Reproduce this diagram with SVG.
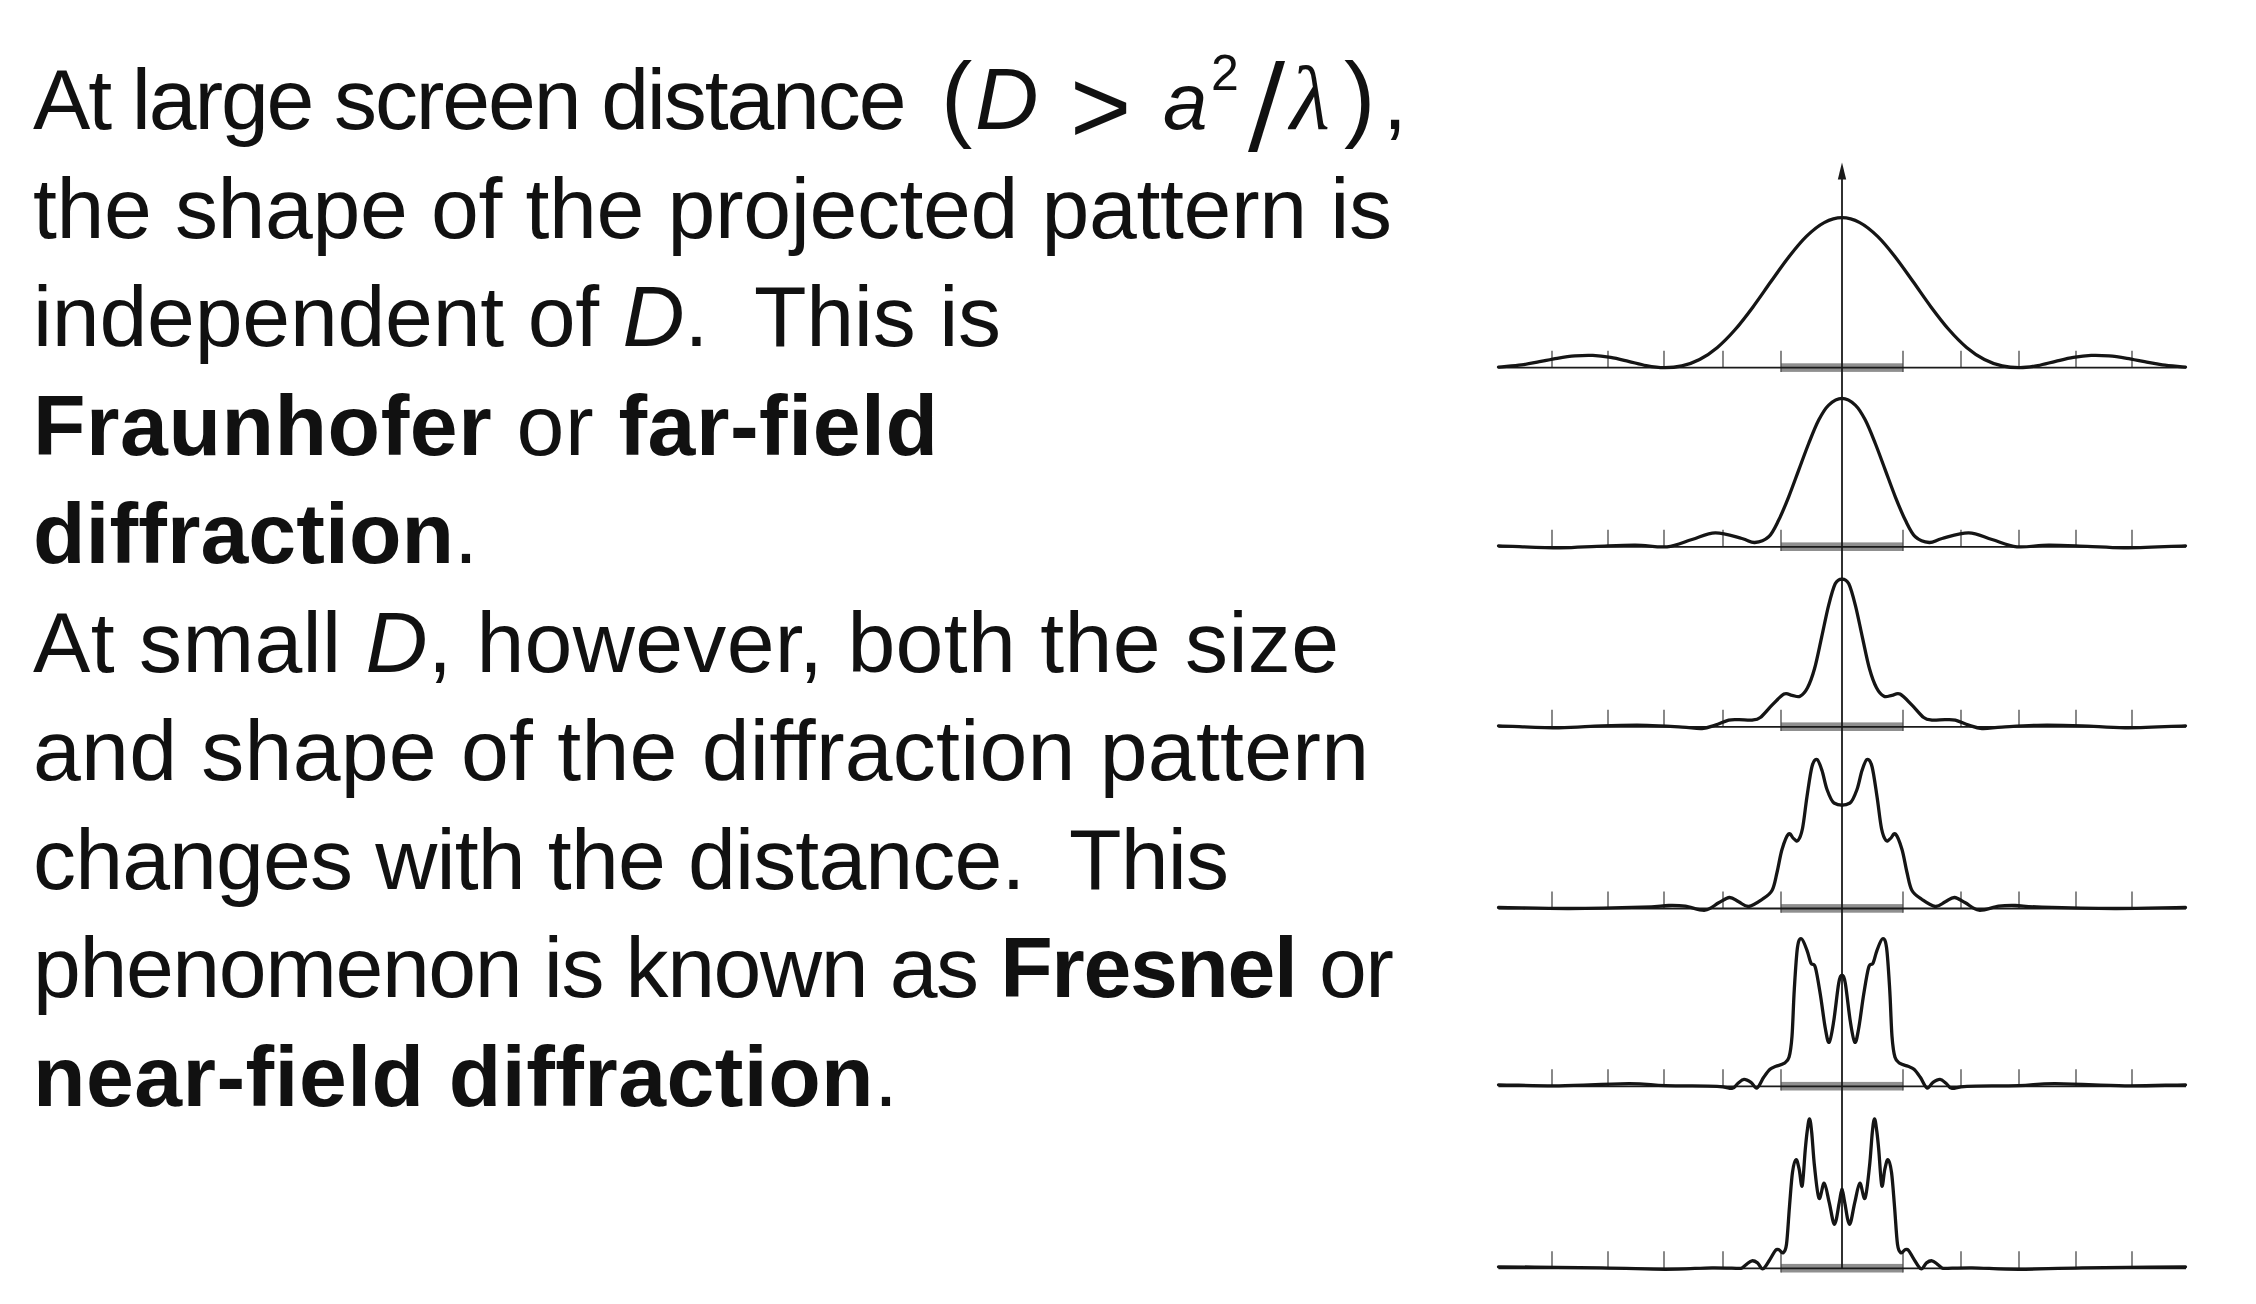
<svg xmlns="http://www.w3.org/2000/svg" width="2256" height="1304" viewBox="0 0 2256 1304">
<style>
.txt{font-family:"Liberation Sans",Arial,sans-serif;font-size:86px;fill:#111}
.b{font-weight:bold}
.i{font-style:italic}
.curve{fill:none;stroke:#151515;stroke-width:3.3;stroke-linejoin:round;stroke-linecap:round}
.base{stroke:#1a1a1a;stroke-width:1.8}
.tick{stroke:#4a4a4a;stroke-width:1.3;fill:none}
.bar{fill:#8f8f8f}
.ax{stroke:#1a1a1a;stroke-width:1.8}
</style>
<defs>
<g id="row">
<rect class="bar" x="1781" y="-4.4" width="122" height="8.6"/>
<path class="tick" d="M1552,-17V0M1608,-17V0M1664,-17V0M1723,-17V0M1781,-17V4.2M1903,-17V4.2M1961,-17V0M2019,-17V0M2076,-17V0M2132,-17V0"/>
<line class="base" x1="1498.5" y1="0" x2="2186" y2="0"/>
</g>
</defs>
<rect width="2256" height="1304" fill="#fff"/>

<g id="text" class="txt">
<text y="129.3"><tspan x="33" textLength="873.5" lengthAdjust="spacing">At large screen distance</tspan><tspan x="941" font-size="94">(</tspan><tspan x="975" class="i" font-size="88">D</tspan><tspan x="1070" y="143" font-size="105">&gt;</tspan><tspan x="1163" y="129.3" class="i" font-size="80">a</tspan><tspan x="1211" y="90" font-size="50">2</tspan><tspan x="1248" y="141.5" font-size="110" style="font-family:'DejaVu Sans',sans-serif">/</tspan><tspan x="1290" y="129.3" class="i" font-size="92" style="font-family:'Liberation Serif',serif">λ</tspan><tspan x="1344" font-size="94">)</tspan><tspan x="1383">,</tspan></text>
<text x="33" y="237.8" textLength="1359" lengthAdjust="spacing">the shape of the projected pattern is</text>
<text x="33" y="346.3" textLength="968" lengthAdjust="spacing" xml:space="preserve">independent of <tspan class="i">D</tspan>.  This is</text>
<text x="33" y="454.8" textLength="905" lengthAdjust="spacing"><tspan class="b">Fraunhofer</tspan> or <tspan class="b">far-field</tspan></text>
<text x="33" y="563.3" textLength="445" lengthAdjust="spacing"><tspan class="b">diffraction</tspan>.</text>
<text x="33" y="671.8" textLength="1306" lengthAdjust="spacing">At small <tspan class="i">D</tspan>, however, both the size</text>
<text x="33" y="780.3" textLength="1336" lengthAdjust="spacing">and shape of the diffraction pattern</text>
<text x="33" y="888.8" textLength="1196" lengthAdjust="spacing" xml:space="preserve">changes with the distance.  This</text>
<text x="33" y="997.3" textLength="1361" lengthAdjust="spacing">phenomenon is known as <tspan class="b">Fresnel</tspan> or</text>
<text x="33" y="1105.8" textLength="865" lengthAdjust="spacing"><tspan class="b">near-field diffraction</tspan>.</text>
</g>

<g id="rows">
<use href="#row" transform="translate(0,367.7)"/>
<use href="#row" transform="translate(0,546.8)"/>
<use href="#row" transform="translate(0,726.8)"/>
<use href="#row" transform="translate(0,908.5)"/>
<use href="#row" transform="translate(0,1086.3)"/>
<use href="#row" transform="translate(0,1268.3)"/>
</g>

<g id="connectors">
<line class="ax" x1="1842" y1="178" x2="1842" y2="1268.3"/>
<polygon points="1842,162.5 1837.8,179.5 1846.2,179.5" fill="#1a1a1a"/>
</g>

<g id="plot1" transform="translate(1842,367.7)">
<path id="c1" class="curve" d="M0,-150 C5.93,-150 11.87,-148.22 17.8,-145.1 S29.67,-137.07 35.6,-131.3 S47.47,-118.07 53.4,-110.5 S65.27,-94.18 71.2,-85.9 S83.07,-68.75 89,-60.8 S100.87,-44.95 106.8,-38.2 S118.67,-25.3 124.6,-20.3 S136.47,-11.28 142.4,-8.2 S154.27,-3.17 160.2,-1.8 S172.07,0.05 178,0 S189.87,-1.03 195.8,-2.1 S207.67,-5.03 213.6,-6.4 S225.47,-9.32 231.4,-10.3 S243.27,-12.05 249.2,-12.3 S261.07,-12.28 267,-11.8 S278.87,-10.37 284.8,-9.4 S296.67,-7.1 302.6,-6 S313.58,-3.72 320.4,-2.8 S335.8,-1.27 343.5,-0.5"/>
<use href="#c1" transform="scale(-1,1)"/>
</g>

<g id="plot2" transform="translate(1842,546.8)">
<path id="c2" class="curve" d="M0,-148.4 C4.43,-148.4 9.42,-145.32 13.3,-141.7 S19.97,-133.1 23.3,-126.7 S29.97,-111.63 33.3,-103.3 S39.97,-85.58 43.3,-76.7 S49.97,-58.33 53.3,-50 S59.97,-33.37 63.3,-26.7 S69.3,-13.73 73.3,-10 S82.85,-4.58 87.3,-4.3 S93.43,-6.68 100,-8.3 S118.37,-14.17 126.7,-14 S141.95,-9.63 150,-7.3 S165.55,-0.93 175,0 S195.03,-1.62 206.7,-1.7 S232.28,-0.95 245,-0.5 S266.58,1.08 283,1 S323.33,-0.33 343.5,-1"/>
<use href="#c2" transform="scale(-1,1)"/>
</g>

<g id="plot3" transform="translate(1842,726.8)">
<path id="c3" class="curve" d="M0,-147.7 C2.27,-147.7 4.55,-147.45 6.8,-143 S11.22,-130 13.5,-121 S18.17,-99.5 20.5,-89 S25.17,-66.33 27.5,-58 S32.08,-43.58 34.5,-39 S39.42,-31.75 42,-30.5 S47.33,-31.13 50,-31.5 S54.67,-34.33 58,-32.7 S66.05,-25.6 70,-21.7 S78.37,-11.8 81.7,-9.3 S86.45,-7.05 90,-6.7 S99.12,-7.2 103,-7.2 S109.35,-7.62 113.3,-6.7 S122.25,-3.1 126.7,-1.7 S134.45,1.37 140,1.7 S150.83,0.83 160,0.3 S181.67,-1.28 195,-1.5 S225.33,-1.42 240,-1 S265.75,1 283,1 S323.33,-0.33 343.5,-1"/>
<use href="#c3" transform="scale(-1,1)"/>
</g>

<g id="plot4" transform="translate(1842,908.5)">
<path id="c4" class="curve" d="M0,-103.3 C2.67,-103.3 5.5,-104 8,-105.5 S13,-113.58 15,-119 S18.33,-133 20,-138 S23.33,-148.33 25,-149 S28.33,-148.17 30,-142 S33.42,-122.33 35,-112 S38,-87.33 39.5,-80 S42.5,-69.67 44,-68 S46.92,-68.92 48.5,-70 S51.58,-76.33 53.5,-74.5 S58.08,-65.42 60,-59 S63.33,-42.83 65,-36 S67.5,-22.5 70,-18 S76.12,-11.67 80,-9 S89.42,-2.38 93.3,-2 S100.1,-5.2 103.3,-6.7 S109.17,-11.17 112.5,-11 S119.22,-7.82 123.3,-5.7 S131.43,1.13 137,1.7 S150.65,-1.52 156.7,-2.3 S166.08,-3.17 173.3,-3 S183.38,-1.8 200,-1.3 S249.08,-0.05 273,0 S320,-0.67 343.5,-1"/>
<use href="#c4" transform="scale(-1,1)"/>
</g>

<g id="plot5" transform="translate(1842,1086.3)">
<path id="c5" class="curve" d="M0,-111 C1.1,-111 1.92,-110.67 3.3,-103 S6.72,-74.83 8.3,-65 S11.4,-45.17 12.8,-44 S15.22,-50 16.7,-58 S20.03,-81.83 21.7,-92 S25.15,-113.83 26.7,-119 S29.62,-120.17 31,-123 S33.42,-131.92 35,-136 S38.92,-147 40.5,-147.5 S43.3,-147.42 44.5,-139 S46.78,-111.83 47.7,-97 S49.12,-61.33 50,-50 S51.67,-33.5 53,-29 S55.83,-24.5 58,-23 S63.67,-21 66,-20 S69.95,-18.83 72,-17 S76.13,-12.12 78.3,-9 S82.88,0.87 85,1.7 S88.83,-2.55 91,-4 S95.83,-7.17 98,-7 S102,-4.5 104,-3 S106.5,1.5 110,2 S113.88,0.45 125,0 S162.03,-0.25 176.7,-0.7 S195.28,-2.73 213,-2.7 S261.25,-0.7 283,-0.5 S323.33,-1.17 343.5,-1.5"/>
<use href="#c5" transform="scale(-1,1)"/>
</g>

<g id="plot6" transform="translate(1842,1268.3)">
<path id="c6" class="curve" d="M0,-79 C0.9,-79 1.45,-71.83 2.7,-66 S5.82,-44 7.5,-44 S11.08,-59.17 12.8,-66 S16.1,-84.33 17.8,-85 S21.38,-67.17 23,-70 S26.28,-91 27.5,-102 S29.47,-128.08 30.3,-136 S31.75,-149.33 32.5,-149.5 S34.08,-142.25 34.8,-137 S35.97,-127.08 36.8,-118 S38.8,-85.67 39.8,-82.5 S41.77,-94.67 42.8,-99 S44.88,-109 46,-108.5 S48.42,-103.75 49.5,-96 S51.5,-74 52.5,-62 S54.42,-31.75 55.5,-24 S57.75,-16.42 59,-15.5 S61.75,-18.08 63,-18.5 S65.05,-19.5 66.5,-18 S69.62,-12.58 71.7,-9.5 S76.87,-0.17 79,0.5 S82.67,-4.17 84.5,-5.5 S88.17,-7.75 90,-7.5 S93.67,-5.25 95.5,-4 S99.2,-0.4 101,0 S117.38,-0.67 130,-0.5 S158.37,1 176.7,1 S212.2,-0.08 240,-0.5 S309,-1.17 343.5,-1.5"/>
<use href="#c6" transform="scale(-1,1)"/>
</g>
</svg>
